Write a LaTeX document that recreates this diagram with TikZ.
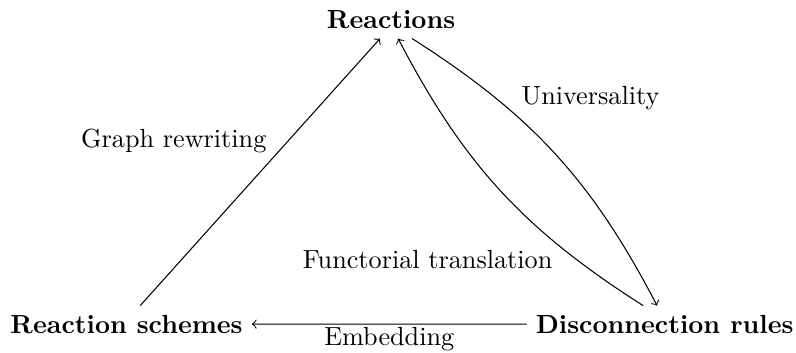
\documentclass[tikz,border=0pt]{standalone}
\usepackage{amsmath,amssymb}
\usepackage{tikz}

\begin{document}
\begin{tikzpicture}[
    obj/.style={font=\bfseries,anchor=base},
    lbl/.style={inner sep=2pt},
    arr/.style={->}]
        \useasboundingbox (0,0) rectangle (10.68,4.724);
        \node[obj] (reac) at (5.247,4.335) {Reactions};
        \node[obj] (schemes) at (1.698,0.255) {Reaction schemes};
        \node[obj] (rules) at (8.918,0.255) {Disconnection rules};
        \draw[arr] ([xshift=5.2pt]schemes.north) -- node[lbl,pos=0.55,above left] {Graph rewriting} ([xshift=-4.2pt]reac.south);
        \draw[arr] ([xshift=8pt]reac.south) to[bend left=15] node[lbl,pos=0.34,above right] {Universality} ([xshift=-2.9pt]rules.north);
        \draw[arr] ([xshift=-8.2pt]rules.north) to[bend left=15] node[lbl,pos=0.27,below left] {Functorial translation} ([xshift=2.7pt]reac.south);
        \draw[arr] (rules.west) -- node[lbl,below,inner sep=1pt] {Embedding} (schemes.east);
      \end{tikzpicture}
\end{document}
